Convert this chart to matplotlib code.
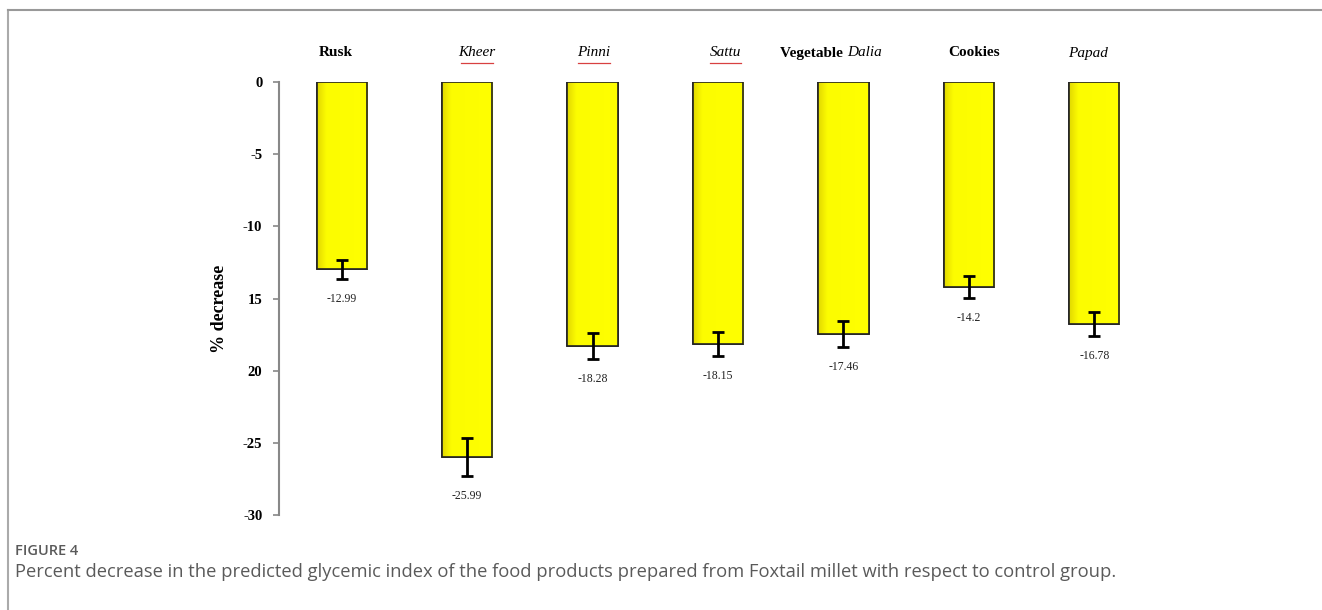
import matplotlib
matplotlib.use("Agg")
import matplotlib.pyplot as plt
from matplotlib.colors import LinearSegmentedColormap
import numpy as np

# Data
products = ["Rusk", "Kheer", "Pinni", "Sattu", "Vegetable Dalia", "Cookies", "Papad"]
decrease = [-12.99, -25.99, -18.28, -18.15, -17.46, -14.2, -16.78]
errors = [0.65, 1.3, 0.9, 0.85, 0.9, 0.75, 0.85]
value_labels = ["-12.99", "-25.99", "-18.28", "-18.15", "-17.46", "-14.2", "-16.78"]
ytick_values = [0, -5, -10, -15, -20, -25, -30]
ytick_labels = ["0", "-5", "-10", "15", "20", "-25", "-30"]

# Horizontal nudges for the product names (in bar-slot units)
name_shift = [-0.05, 0.08, 0.01, 0.06, 0.05, 0.04, -0.05]

W, H = 1322, 610
fig = plt.figure(figsize=(W / 100, H / 100), dpi=100)
fig.patch.set_facecolor("white")

serif = ["Liberation Serif", "DejaVu Serif"]
sans = ["Open Sans", "Lato", "DejaVu Sans"]

# Axes placement in pixels
left, right, top, bottom = 279, 1157, 82, 515
ax = fig.add_axes([left / W, 1 - bottom / H, (right - left) / W, (bottom - top) / H])

x = np.arange(len(products))
bar_w = 0.4
bars = ax.bar(x, decrease, width=bar_w, color="#FFFF00", edgecolor="#222222",
              linewidth=1.2, zorder=2)

# Bevel-like shading on each bar: a narrow darker strip along the left edge
shade = LinearSegmentedColormap.from_list(
    "shade", [(0.0, "#E0D800"), (0.08, "#EEE800"), (0.18, "#FCFC00"), (1.0, "#FFFF00")])
grad = np.linspace(0, 1, 128).reshape(1, -1)
for b in bars:
    x0 = b.get_x()
    im = ax.imshow(grad, cmap=shade, aspect="auto", extent=[x0, x0 + bar_w, b.get_height(), 0],
                   zorder=2.1, interpolation="bilinear")
    im.set_clip_path(b)
    # redraw the outline above the shading
    ax.add_patch(plt.Rectangle((x0, b.get_height()), bar_w, -b.get_height(), fill=False,
                               edgecolor="#222222", linewidth=1.2, zorder=2.2))

ax.errorbar(x, decrease, yerr=errors, fmt="none", ecolor="black", elinewidth=2,
            capsize=4, capthick=2, zorder=3)

for xi, v, e, lab in zip(x, decrease, errors, value_labels):
    ax.annotate(lab, (xi, v - e), xytext=(0, -10), textcoords="offset points",
                ha="center", va="top", fontsize=8.5, family=serif, color="#222222")

ax.set_xlim(-0.5, len(products) - 0.5)
ax.set_ylim(-30, 0)
for s in ["top", "right", "bottom"]:
    ax.spines[s].set_visible(False)
ax.spines["left"].set_color("#888888")
ax.spines["left"].set_linewidth(1.5)
ax.set_xticks([])
ax.set_yticks(ytick_values)
ax.set_yticklabels(ytick_labels, fontsize=10.5, fontweight="bold", family=serif)
ax.tick_params(axis="y", direction="out", length=4, width=1.2, color="#888888", pad=8)
ax.patch.set_alpha(0)

ax.set_ylabel("% decrease", fontsize=13, fontweight="bold", family=serif)
ax.yaxis.set_label_coords(-(left - 228) / (right - left), 1 - (309 - top) / (bottom - top))

# Product names above the bars
label_y = 1 + 29 / (bottom - top)
italic_names = {"Kheer", "Pinni", "Sattu", "Papad"}
underlined = {"Kheer", "Pinni", "Sattu"}
tr = ax.get_xaxis_transform()
for xi, name, dx in zip(x, products, name_shift):
    xc = xi + dx
    if name == "Vegetable Dalia":
        ax.text(xc - 0.02, label_y, "Vegetable ", transform=tr, ha="right", va="center",
                fontsize=11, fontweight="bold", family=serif)
        ax.text(xc - 0.02, label_y, "Dalia", transform=tr, ha="left", va="center",
                fontsize=11, style="italic", family=serif)
    elif name in italic_names:
        ax.text(xc, label_y, name, transform=tr, ha="center", va="center",
                fontsize=11, style="italic", family=serif)
        if name in underlined:
            half = 0.025 * len(name)
            ax.plot([xc - half, xc + half], [label_y - 0.022, label_y - 0.022], transform=tr,
                    color="#d84040", lw=0.9, clip_on=False)
    else:
        ax.text(xc, label_y, name, transform=tr, ha="center", va="center",
                fontsize=11, fontweight="bold", family=serif)

# Frame lines of the figure panel
fig.add_artist(plt.Line2D([8 / W, 8 / W], [0, 1 - 10 / H], color="#aaaaaa", lw=1.5))
fig.add_artist(plt.Line2D([8 / W, 1], [1 - 10 / H, 1 - 10 / H], color="#999999", lw=1.5))

fig.text(15 / W, 1 - 551 / H, "FIGURE 4", fontsize=10.5, color="#5a5a5a", family=sans,
         fontweight="semibold", va="center", ha="left")
fig.text(15 / W, 1 - 572 / H,
         "Percent decrease in the predicted glycemic index of the food products prepared "
         "from Foxtail millet with respect to control group.",
         fontsize=13.2, color="#5a5a5a", family=sans, va="center", ha="left")

fig.savefig("out.png", dpi=100, facecolor="white")
